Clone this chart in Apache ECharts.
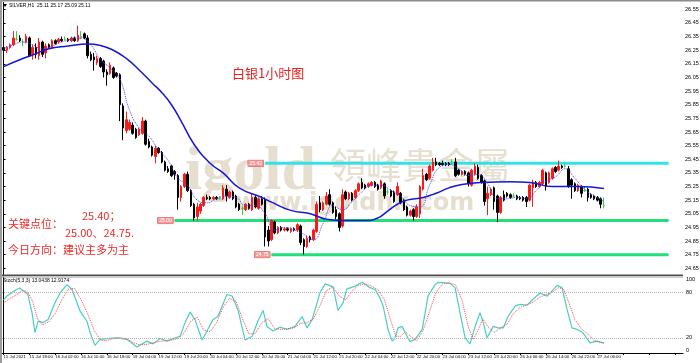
<!DOCTYPE html>
<html>
<head>
<meta charset="utf-8">
<title>白银1小时图</title>
<script src="https://cdn.jsdelivr.net/npm/echarts@6/dist/echarts.min.js"></script>
<style>
  html, body { margin: 0; padding: 0; background: #fff; }
  #chart { width: 700px; height: 363px; }
</style>
</head>
<body>
<div id="chart"></div>
<script>
// SILVER H1 bars, [open, high, low, close]
const candles = [
  [26.27,26.29,26.24,26.25],[26.25,26.28,26.23,26.27],[26.27,26.30,26.26,26.29],[26.29,26.39,26.28,26.34],
  [26.33,26.39,26.32,26.33],[26.34,26.36,26.31,26.32],[26.31,26.33,26.28,26.31],[26.31,26.37,26.30,26.35],
  [26.34,26.35,26.20,26.21],[26.22,26.29,26.18,26.27],[26.27,26.30,26.19,26.22],[26.21,26.34,26.18,26.31],
  [26.31,26.32,26.20,26.22],[26.23,26.30,26.19,26.28],[26.29,26.30,26.26,26.27],[26.27,26.33,26.26,26.32],
  [26.32,26.33,26.29,26.30],[26.31,26.34,26.30,26.33],[26.33,26.35,26.31,26.32],[26.33,26.35,26.32,26.33],
  [26.33,26.34,26.31,26.32],[26.32,26.35,26.31,26.34],[26.34,26.35,26.31,26.32],[26.32,26.43,26.31,26.36],
  [26.35,26.39,26.33,26.35],[26.37,26.38,26.33,26.34],[26.34,26.36,26.19,26.21],[26.22,26.24,26.17,26.18],
  [26.20,26.23,26.10,26.18],[26.16,26.21,26.14,26.19],[26.19,26.20,26.12,26.13],[26.17,26.18,26.05,26.09],
  [26.09,26.11,25.99,26.07],[26.08,26.16,26.07,26.14],[26.12,26.13,26.04,26.05],[26.08,26.09,26.05,26.06],
  [26.07,26.08,25.73,25.85],[25.84,25.86,25.59,25.68],[25.66,25.80,25.64,25.74],[25.67,25.74,25.66,25.72],
  [25.70,25.72,25.63,25.64],[25.67,25.68,25.60,25.61],[25.63,25.68,25.62,25.67],[25.64,25.76,25.63,25.73],
  [25.73,25.74,25.55,25.56],[25.58,25.60,25.53,25.54],[25.54,25.55,25.47,25.48],[25.47,25.55,25.42,25.53],
  [25.53,25.54,25.49,25.50],[25.50,25.51,25.42,25.43],[25.43,25.44,25.36,25.37],[25.38,25.40,25.35,25.36],
  [25.40,25.41,25.32,25.33],[25.36,25.37,25.30,25.34],[25.33,25.34,25.08,25.17],[25.17,25.26,25.14,25.25],
  [25.25,25.35,25.24,25.34],[25.34,25.36,25.21,25.22],[25.22,25.23,25.10,25.11],[25.12,25.13,25.00,25.02],
  [25.03,25.13,25.00,25.10],[25.07,25.13,25.05,25.12],[25.11,25.18,25.10,25.17],[25.17,25.19,25.15,25.16],
  [25.17,25.18,25.15,25.16],[25.16,25.18,25.15,25.17],[25.17,25.18,25.15,25.16],[25.16,25.18,25.15,25.16],
  [25.16,25.26,25.15,25.24],[25.23,25.26,25.14,25.18],[25.17,25.22,25.16,25.21],[25.21,25.22,25.15,25.16],
  [25.18,25.19,25.09,25.10],[25.12,25.13,25.07,25.08],[25.09,25.11,25.04,25.09],[25.08,25.13,25.07,25.12],
  [25.12,25.13,25.08,25.09],[25.08,25.20,25.07,25.17],[25.17,25.18,25.09,25.10],[25.09,25.17,25.08,25.16],
  [25.16,25.18,25.11,25.12],[25.15,25.17,24.81,24.88],[24.93,24.96,24.81,24.85],[24.86,25.01,24.85,25.00],
  [24.99,25.00,24.90,24.91],[24.91,24.96,24.90,24.95],[24.95,24.96,24.92,24.93],[24.93,24.95,24.92,24.94],
  [24.94,24.95,24.92,24.93],[24.92,24.95,24.91,24.94],[24.94,24.95,24.92,24.93],[24.93,24.98,24.92,24.97],
  [24.96,24.97,24.82,24.84],[24.86,24.87,24.75,24.81],[24.81,24.89,24.80,24.87],[24.88,24.89,24.84,24.86],
  [24.86,24.94,24.85,24.93],[24.92,25.14,24.91,25.12],[25.13,25.18,25.06,25.08],[25.08,25.14,25.07,25.13],
  [25.12,25.21,25.11,25.18],[25.19,25.23,25.11,25.12],[25.13,25.14,25.05,25.06],[25.08,25.10,25.01,25.03],
  [25.05,25.06,24.92,24.95],[24.96,25.23,24.95,25.19],[25.21,25.22,25.15,25.16],[25.16,25.21,25.15,25.20],
  [25.20,25.21,25.14,25.15],[25.17,25.23,25.16,25.22],[25.22,25.28,25.21,25.27],[25.28,25.31,25.23,25.24],
  [25.26,25.27,25.23,25.24],[25.25,25.28,25.24,25.27],[25.26,25.29,25.25,25.28],[25.28,25.29,25.24,25.25],
  [25.26,25.27,25.22,25.23],[25.24,25.30,25.23,25.29],[25.27,25.28,25.16,25.18],[25.21,25.23,25.19,25.21],
  [25.22,25.23,25.17,25.18],[25.21,25.22,25.13,25.14],[25.19,25.28,25.18,25.25],[25.20,25.21,25.12,25.13],
  [25.15,25.16,25.07,25.08],[25.10,25.11,25.03,25.04],[25.04,25.08,25.03,25.07],[25.08,25.09,25.00,25.03],
  [25.03,25.12,25.02,25.10],[25.05,25.26,25.02,25.25],[25.23,25.38,25.22,25.33],[25.34,25.35,25.29,25.30],
  [25.31,25.41,25.30,25.40],[25.37,25.46,25.36,25.43],[25.43,25.46,25.40,25.41],[25.42,25.43,25.40,25.41],
  [25.42,25.44,25.40,25.41],[25.42,25.43,25.40,25.41],[25.42,25.43,25.40,25.41],[25.43,25.45,25.41,25.43],
  [25.43,25.46,25.32,25.33],[25.37,25.38,25.33,25.34],[25.34,25.37,25.33,25.36],[25.36,25.37,25.33,25.34],
  [25.35,25.36,25.25,25.27],[25.26,25.38,25.25,25.37],[25.34,25.42,25.33,25.40],[25.39,25.41,25.30,25.31],
  [25.33,25.34,25.27,25.28],[25.29,25.30,25.11,25.14],[25.16,25.25,25.04,25.20],[25.19,25.24,25.18,25.23],
  [25.24,25.25,25.08,25.14],[25.18,25.19,24.99,25.06],[25.06,25.18,25.05,25.17],[25.19,25.22,25.14,25.15],
  [25.20,25.21,25.17,25.18],[25.19,25.20,25.16,25.17],[25.18,25.20,25.17,25.18],[25.18,25.19,25.15,25.16],
  [25.17,25.18,25.15,25.16],[25.17,25.18,25.14,25.15],[25.17,25.18,25.10,25.14],[25.15,25.27,25.14,25.26],
  [25.24,25.30,25.10,25.28],[25.28,25.29,25.24,25.25],[25.25,25.29,25.24,25.28],[25.27,25.38,25.26,25.37],
  [25.35,25.36,25.22,25.25],[25.28,25.36,25.27,25.35],[25.31,25.39,25.30,25.38],[25.39,25.40,25.35,25.36],
  [25.37,25.44,25.36,25.40],[25.40,25.41,25.38,25.39],[25.40,25.42,25.39,25.40],[25.38,25.40,25.24,25.25],
  [25.30,25.31,25.16,25.26],[25.27,25.28,25.21,25.22],[25.22,25.27,25.21,25.26],[25.25,25.26,25.17,25.20],
  [25.22,25.25,25.21,25.22],[25.23,25.24,25.14,25.17],[25.19,25.20,25.16,25.17],[25.18,25.19,25.15,25.16],
  [25.17,25.18,25.14,25.15],[25.16,25.17,25.09,25.12],[25.11,25.17,25.09,25.11]
];

// moving averages, [bar, price]
const slowMa = [
  [0,26.13],[5,26.18],[9,26.215],[14,26.26],[20,26.28],[26,26.295],[30,26.285],[34,26.25],[38,26.19],
  [42,26.105],[46,26.01],[49,25.94],[52,25.85],[55,25.73],[59,25.56],[64,25.42],[68,25.35],[73,25.24],
  [80,25.17],[83,25.135],[89,25.075],[95,25.05],[100,25.01],[105,25.0],[112,25.0],[116,25.02],[119,25.07],
  [122,25.12],[125,25.15],[130,25.17],[134,25.2],[138,25.24],[142,25.265],[148,25.28],[157,25.285],
  [163,25.28],[170,25.25],[178,25.25],[186,25.235]
];
const fastMa = [
  [0,26.26],[3,26.29],[6,26.31],[9,26.29],[12,26.26],[15,26.28],[18,26.31],[21,26.33],[24,26.34],[27,26.29],
  [30,26.18],[33,26.12],[36,26.04],[39,25.81],[42,25.68],[45,25.62],[48,25.52],[51,25.44],[54,25.31],[57,25.26],
  [60,25.15],[63,25.13],[66,25.16],[69,25.18],[72,25.17],[75,25.11],[78,25.11],[81,25.05],[84,24.93],[87,24.95],
  [90,24.93],[93,24.9],[96,24.86],[99,24.98],[102,25.11],[105,25.08],[108,25.14],[111,25.21],[114,25.26],[117,25.26],
  [120,25.22],[123,25.18],[126,25.11],[129,25.1],[132,25.26],[135,25.39],[138,25.41],[141,25.38],[144,25.33],[147,25.34],
  [150,25.27],[153,25.16],[156,25.16],[159,25.17],[162,25.16],[165,25.22],[168,25.29],[171,25.32],[174,25.38],[177,25.31],
  [180,25.23],[183,25.18],[186,25.14]
];

// Stoch(5,3,3), [bar, value]
const stochMain = [
  [0,70],[1,75],[4,83.5],[5,85.5],[6,82],[7.5,77],[8.8,53],[9.7,27],[10.7,42],[12.2,40],[13.8,44],[15.9,66],
  [17.5,79],[19.6,90],[21.2,83.5],[23.7,55],[25.8,42],[26.8,27],[28.3,10],[29.9,18],[32,19],[35.1,20],[38.2,18],
  [41.3,8],[44.4,15.6],[46.3,12],[48.5,19],[50.6,15.6],[52.5,19],[54.7,22],[56.2,40],[57.8,54],[59.3,44],[61.5,17],
  [63,29],[64.9,44],[66.4,48],[69.2,77],[70.8,75],[72.6,57],[74.8,17],[77,22],[78.8,42],[80.4,56],[81.6,35],
  [83.5,29],[85.6,34],[87.8,31],[90.3,35],[92.5,48],[94,33],[95.6,44],[98,79],[99.6,91],[102.1,87],[103.6,56],
  [105.2,66],[106.3,84],[108.9,88],[111.1,93],[113.5,86],[115.1,83.5],[116.6,72.6],[117.6,61.6],[119.1,31],
  [120.4,15.6],[121.3,20],[122.2,33],[123.5,35],[124.4,26.6],[125.9,15],[127.5,18],[129.7,31],[131.5,74.8],
  [133.7,90],[134.6,93],[138.3,92],[139.9,85.7],[141.4,53],[143,20],[144.5,12],[146.1,35],[147.6,53],[148.6,40],
  [149.8,20],[151.7,35],[153.2,33],[154.8,33],[156.3,48],[158.5,62],[160,64],[162.2,63],[164.1,71],[166.2,79],
  [168.4,74.8],[170.3,83.5],[171.5,89],[173,86],[174.6,57],[176.1,33],[177.7,31],[179.5,26.6],[181.7,13.4],
  [183.9,15.6],[186,13.04]
];
const stochSignal = [
  [0,66],[2,72],[4.5,78],[6,83],[7.5,80],[9,68],[10.5,45],[12,37],[14,41],[16,52],[18,70],[20,84],[22,85],
  [24,70],[26,52],[28,30],[30,17],[32,16],[34,19],[36,20],[38,19],[40,14],[42,11],[44,11],[46,13],[48,15],
  [50,16],[52,17],[54,19],[56,27],[58,42],[60,47],[62,30],[64,28],[66,40],[68,60],[70,72],[72,68],[74,45],
  [76,25],[78,26],[80,40],[82,45],[84,32],[86,31],[88,32],[90,33],[92,39],[94,40],[96,45],[98,62],[100,82],
  [102,87],[104,75],[106,70],[108,82],[110,89],[112,91],[114,88],[116,83],[118,70],[120,42],[121.5,22],[123,22],
  [124.5,28],[126,22],[128,16],[130,30],[132,55],[134,80],[136,91],[138,92],[140,90],[142,70],[144,34],[145.5,18],
  [147,30],[148.5,45],[150,35],[152,27],[154,33],[156,38],[158,52],[160,60],[162,63],[164,67],[166,73],[168,77],
  [170,80],[172,86],[173.5,84],[175,68],[177,44],[179,32],[181,25],[183,16],[186,12.92]
];

// time axis labels, one every 8 bars
const timeLabels = [
  '15 Jul 2021','15 Jul 18:00','16 Jul 02:00','16 Jul 10:00','16 Jul 18:00','19 Jul 04:00','19 Jul 12:00',
  '19 Jul 20:00','20 Jul 04:00','20 Jul 12:00','20 Jul 20:00','21 Jul 04:00','21 Jul 12:00','21 Jul 20:00',
  '22 Jul 04:00','22 Jul 12:00','22 Jul 20:00','23 Jul 04:00','23 Jul 12:00','23 Jul 20:00','26 Jul 06:00',
  '26 Jul 14:00','26 Jul 22:00','27 Jul 06:00'
];
const priceTicks = [24.65,24.75,24.85,24.95,25.05,25.15,25.25,25.35,25.45,25.55,25.65,25.75,25.85,25.95,
  26.05,26.15,26.25,26.35,26.45,26.55];
const stochLevels = [80, 20];

// horizontal key levels drawn on the chart
const levelPrices = [25.42, 25.00, 24.75];
const levelFromBar = [81, 53, 83];
const levelToBar = 206;
const lastPrice = 25.11;
const totalSlots = 211;

const chart = echarts.init(document.getElementById('chart'));
const slots = Array.from({ length: totalSlots }, (_, i) => String(i));
const dojiColor = '#3ccf3c';
const levelColors = ['#33e3e3', '#22df7a', '#22df7a'];
const tinyFont = 'Liberation Sans';
const stochGrid = { left: 2, right: 17, top: 277, height: 76 };

const candleData = candles.map(function (b) {
  const item = { value: [b[0], b[3], b[2], b[1]] };
  if (b[0] === b[3]) {
    item.itemStyle = { color: dojiColor, color0: dojiColor, borderColor: dojiColor, borderColor0: dojiColor };
  }
  return item;
});

const levelSeries = levelPrices.map(function (p, k) {
  return {
    type: 'line',
    xAxisIndex: 1,
    yAxisIndex: 0,
    silent: true,
    symbol: 'circle',
    symbolSize: 1,
    showSymbol: true,
    itemStyle: { color: levelColors[k] },
    lineStyle: { color: levelColors[k], width: 3 },
    z: 3,
    data: [
      {
        value: [levelFromBar[k], p],
        label: {
          show: true, position: 'left', distance: 1, formatter: p.toFixed(2),
          fontSize: 5, fontFamily: tinyFont, color: '#fff', backgroundColor: '#f29a9a',
          borderColor: '#e05a5a', borderWidth: 0.5, padding: [1, 1.5, 0, 1.5]
        }
      },
      [levelToBar, p]
    ]
  };
});

const option = {
  backgroundColor: '#fff',
  animation: false,
  textStyle: { fontFamily: tinyFont },
  grid: [
    { left: 2, right: 17, top: 2.5, height: 272.6, outerBoundsMode: 'none' },
    Object.assign({ outerBoundsMode: 'none' }, stochGrid)
  ],
  xAxis: [
    { type: 'category', gridIndex: 0, data: slots, boundaryGap: true, show: false },
    { type: 'value', gridIndex: 0, min: -0.5, max: totalSlots - 0.5, show: false },
    {
      type: 'category', gridIndex: 1, data: slots, boundaryGap: true,
      axisLine: { show: true, lineStyle: { color: '#000', width: 1 } },
      axisTick: { show: true, alignWithLabel: true, interval: 7, length: 2, lineStyle: { color: '#000' } },
      axisLabel: {
        interval: 7, fontSize: 4.3, color: '#000', align: 'left', margin: 2,
        formatter: function (v, i) { return timeLabels[i / 8] || ''; }
      },
      splitLine: { show: false }
    },
    { type: 'value', gridIndex: 1, min: -0.5, max: totalSlots - 0.5, show: false }
  ],
  yAxis: [
    {
      type: 'value', gridIndex: 0, position: 'right', min: 24.6, max: 26.6,
      axisLine: { show: true, lineStyle: { color: '#000', width: 1 } },
      axisTick: { show: true, length: 2, customValues: priceTicks, lineStyle: { color: '#000' } },
      axisLabel: {
        fontSize: 5.5, color: '#000', margin: 2, customValues: priceTicks,
        formatter: function (v) { return v.toFixed(2); }
      },
      splitLine: { show: false }
    },
    {
      type: 'value', gridIndex: 1, position: 'right', min: 0, max: 100, interval: 20,
      axisLine: { show: true, lineStyle: { color: '#000', width: 1 } },
      axisTick: { show: false },
      axisLabel: {
        fontSize: 5.5, color: '#000', margin: 3,
        formatter: function (v) { return stochLevels.indexOf(v) >= 0 ? String(v) : ''; }
      },
      splitLine: { show: false }
    }
  ],
  series: [
    {
      type: 'candlestick',
      xAxisIndex: 0,
      yAxisIndex: 0,
      barWidth: 2,
      z: 4,
      itemStyle: { color: '#ff1a1a', color0: '#000', borderColor: '#ff1a1a', borderColor0: '#000', borderWidth: 1 },
      data: candleData,
      markLine: {
        silent: true,
        symbol: 'none',
        lineStyle: { opacity: 0 },
        label: {
          position: 'end', distance: 1, formatter: lastPrice.toFixed(2), fontSize: 5.5,
          color: '#fff', backgroundColor: '#000', padding: [1, 2, 0, 2]
        },
        data: [{ yAxis: lastPrice }]
      }
    },
    {
      type: 'line', xAxisIndex: 1, yAxisIndex: 0, data: slowMa, smooth: true, symbol: 'none', z: 5,
      lineStyle: { color: '#1616d8', width: 1.5 }
    },
    {
      type: 'line', xAxisIndex: 1, yAxisIndex: 0, data: fastMa, smooth: true, symbol: 'none', z: 5,
      lineStyle: { color: '#4646ff', width: 1, type: 'dotted' }
    }
  ].concat(levelSeries).concat([
    {
      type: 'line', xAxisIndex: 3, yAxisIndex: 1, data: stochMain, symbol: 'none',
      lineStyle: { color: '#48cfc4', width: 1.2 },
      markLine: {
        silent: true, symbol: 'none', label: { show: false },
        lineStyle: { color: '#b5b5b5', width: 1, type: 'dotted' },
        data: stochLevels.map(function (v) { return { yAxis: v }; })
      }
    },
    {
      type: 'line', xAxisIndex: 3, yAxisIndex: 1, data: stochSignal, symbol: 'none',
      lineStyle: { color: '#ff4a4a', width: 1, type: 'dotted' }
    }
  ]),
  graphic: [
    // watermark
    { type: 'text', x: 185, y: 173, z: 1, silent: true,
      style: { text: 'igold', fill: '#e6dfcf', fontSize: 62, fontWeight: 'bold', fontFamily: 'Liberation Serif', textVerticalAlign: 'middle' } },
    { type: 'text', x: 330, y: 165, z: 1, silent: true,
      style: { text: '領峰貴金屬', fill: '#e6dfcf', fontSize: 36, fontFamily: 'Noto Sans CJK TC', textVerticalAlign: 'middle' } },
    { type: 'text', x: 235, y: 204, z: 1, silent: true,
      style: { text: 'www.igoldhk.com', fill: '#e6dfcf', fontSize: 24, fontWeight: 'bold', fontFamily: 'DejaVu Sans', textVerticalAlign: 'middle' } },
    // frame
    { type: 'rect', z: 100, shape: { x: 0, y: 0, width: 700, height: 1.5 }, style: { fill: '#8c8c8c' } },
    { type: 'rect', z: 100, shape: { x: 0, y: 0, width: 2, height: 363 }, style: { fill: '#9c9c9c' } },
    { type: 'rect', z: 100, shape: { x: 2, y: 274.4, width: 681, height: 1.6 }, style: { fill: '#4d4d4d' } },
    { type: 'rect', z: 100, shape: { x: 2, y: 276.6, width: 681, height: 0.8 }, style: { fill: '#9a9a9a' } },
    // oscillator 100 / 0 scale labels at the panel's top and bottom edges
    { type: 'text', z: 100, x: 700 - stochGrid.right + 3, y: stochGrid.top + 2.5,
      style: { text: '100', fill: '#000', fontSize: 5.5, fontFamily: tinyFont, textVerticalAlign: 'middle' } },
    { type: 'text', z: 100, x: 700 - stochGrid.right + 3, y: stochGrid.top + stochGrid.height - 2.5,
      style: { text: '0', fill: '#000', fontSize: 5.5, fontFamily: tinyFont, textVerticalAlign: 'middle' } },
    // panel captions
    { type: 'polygon', z: 100, shape: { points: [[3, 4], [7, 4], [5, 7]] }, style: { fill: '#000' } },
    { type: 'text', x: 9, y: 6, z: 100,
      style: { text: 'SILVER,H1  25.11 25.17 25.09 25.11', fill: '#000', fontSize: 5, fontFamily: tinyFont, textVerticalAlign: 'middle' } },
    { type: 'text', x: 3, y: 281, z: 100,
      style: { text: 'Stoch(5,3,3) 13.0438 12.9174', fill: '#000', fontSize: 5, fontFamily: tinyFont, textVerticalAlign: 'middle' } },
    // annotations
    { type: 'text', x: 232, y: 73, z: 100,
      style: { text: '白银1小时图', fill: '#f01e1e', fontSize: 13, fontFamily: 'Noto Sans CJK SC', textVerticalAlign: 'middle' } },
    { type: 'text', x: 8, y: 224, z: 100,
      style: { text: '关键点位：', fill: '#f02828', fontSize: 11, fontFamily: 'Noto Sans CJK SC', textVerticalAlign: 'middle' } },
    { type: 'text', x: 82, y: 216, z: 100,
      style: { text: '25.40；', fill: '#f02828', fontSize: 11, fontFamily: 'Noto Sans CJK SC', textVerticalAlign: 'middle' } },
    { type: 'text', x: 65, y: 233, z: 100,
      style: { text: '25.00、24.75.', fill: '#f02828', fontSize: 11, fontFamily: 'Noto Sans CJK SC', textVerticalAlign: 'middle' } },
    { type: 'text', x: 8, y: 250, z: 100,
      style: { text: '今日方向：建议主多为主', fill: '#f02828', fontSize: 11, fontFamily: 'Noto Sans CJK SC', textVerticalAlign: 'middle' } }
  ]
};

chart.setOption(option);
</script>
</body>
</html>
